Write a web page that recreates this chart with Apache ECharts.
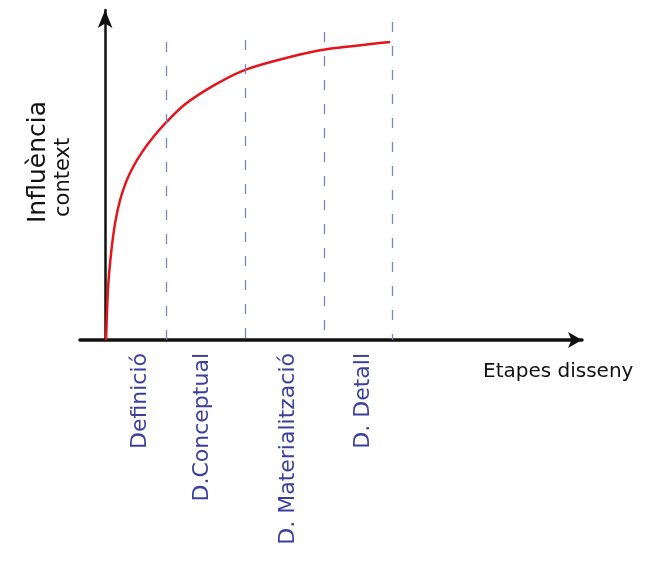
<!DOCTYPE html>
<html>
<head>
<meta charset="utf-8">
<script src="https://cdn.jsdelivr.net/npm/echarts@6/dist/echarts.min.js"></script>
<style>
  html, body { margin: 0; padding: 0; background: #ffffff; }
  #chart { width: 646px; height: 581px; }
</style>
</head>
<body>
<div id="chart"></div>
<script>
// Influence of the context across the design stages
const curveX = [0.2, 0.6, 1.2, 2.0, 3.0, 4.2, 5.6, 7.4, 9.6, 12.2, 16.0, 21.5, 27.3, 34.9, 42.8, 50.0, 56.8];
const curveY = [0, 16, 26.4, 35.5, 42.5, 48, 52.5, 57, 61.5, 66, 71.5, 77, 81.5, 85, 87.8, 89.2, 90.3];

// Boundaries between stages (dashed) and how high each dashed line reaches
const stageX = [12.2, 27.9, 43.6, 57.2];
const stageTop = [90.3, 90.9, 93.3, 96.4];

// Stage names, placed under the horizontal axis
const stageNames = ['Definició', 'D.Conceptual', 'D. Materialització', 'D. Detall'];
const stageLabelPos = [7.0, 19.3, 36.4, 51.4];

const yTitle = ['Influència', 'context'];
const xTitle = 'Etapes disseny';

const ink = '#111111';
const blueInk = '#3b3f9e';
const font = 'DejaVu Sans';

const chart = echarts.init(document.getElementById('chart'), null, { renderer: 'canvas' });

const markData = stageX.map((x, i) => [
  { coord: [x, stageTop[i]] },
  { coord: [x, 0] }
]);

chart.setOption({
  animation: false,
  backgroundColor: '#ffffff',
  grid: { left: 80, right: 64, top: 10, bottom: 241 },
  xAxis: {
    type: 'value',
    min: -5,
    max: 95,
    splitLine: { show: false },
    axisTick: { show: false },
    axisLine: {
      show: true,
      onZero: true,
      symbol: ['none', 'arrow'],
      symbolSize: [12, 14],
      lineStyle: { color: ink, width: 3.5 }
    },
    axisLabel: {
      show: true,
      customValues: stageLabelPos,
      rotate: 90,
      margin: 13,
      color: blueInk,
      fontFamily: font,
      fontSize: 22,
      formatter: (v) => {
        const i = stageLabelPos.indexOf(v);
        return i >= 0 ? stageNames[i] : '';
      }
    }
  },
  yAxis: {
    type: 'value',
    min: 0,
    max: 100,
    splitLine: { show: false },
    axisTick: { show: false },
    axisLabel: { show: false },
    axisLine: {
      show: true,
      onZero: true,
      symbol: ['none', 'arrow'],
      symbolSize: [11, 18],
      lineStyle: { color: ink, width: 2.5 }
    }
  },
  graphic: [
    {
      type: 'text',
      x: 38, y: 223,
      rotation: Math.PI / 2,
      style: {
        text: yTitle[0],
        fill: ink,
        font: '25px "DejaVu Sans"',
        textAlign: 'left',
        textVerticalAlign: 'middle'
      }
    },
    {
      type: 'text',
      x: 64, y: 217,
      rotation: Math.PI / 2,
      style: {
        text: yTitle[1],
        fill: ink,
        font: '21px "DejaVu Sans"',
        textAlign: 'left',
        textVerticalAlign: 'middle'
      }
    },
    {
      type: 'text',
      x: 483, y: 372,
      style: {
        text: xTitle,
        fill: ink,
        font: '20px "DejaVu Sans"',
        textAlign: 'left',
        textVerticalAlign: 'middle'
      }
    }
  ],
  series: [
    {
      type: 'line',
      data: curveX.map((x, i) => [x, curveY[i]]),
      smooth: 0.35,
      showSymbol: false,
      lineStyle: { color: '#e5141c', width: 2.5 },
      markLine: {
        silent: true,
        symbol: ['none', 'none'],
        label: { show: false },
        lineStyle: { color: '#7c82c4', width: 1.3, type: [10, 14] },
        data: markData
      }
    }
  ]
});
</script>
</body>
</html>
